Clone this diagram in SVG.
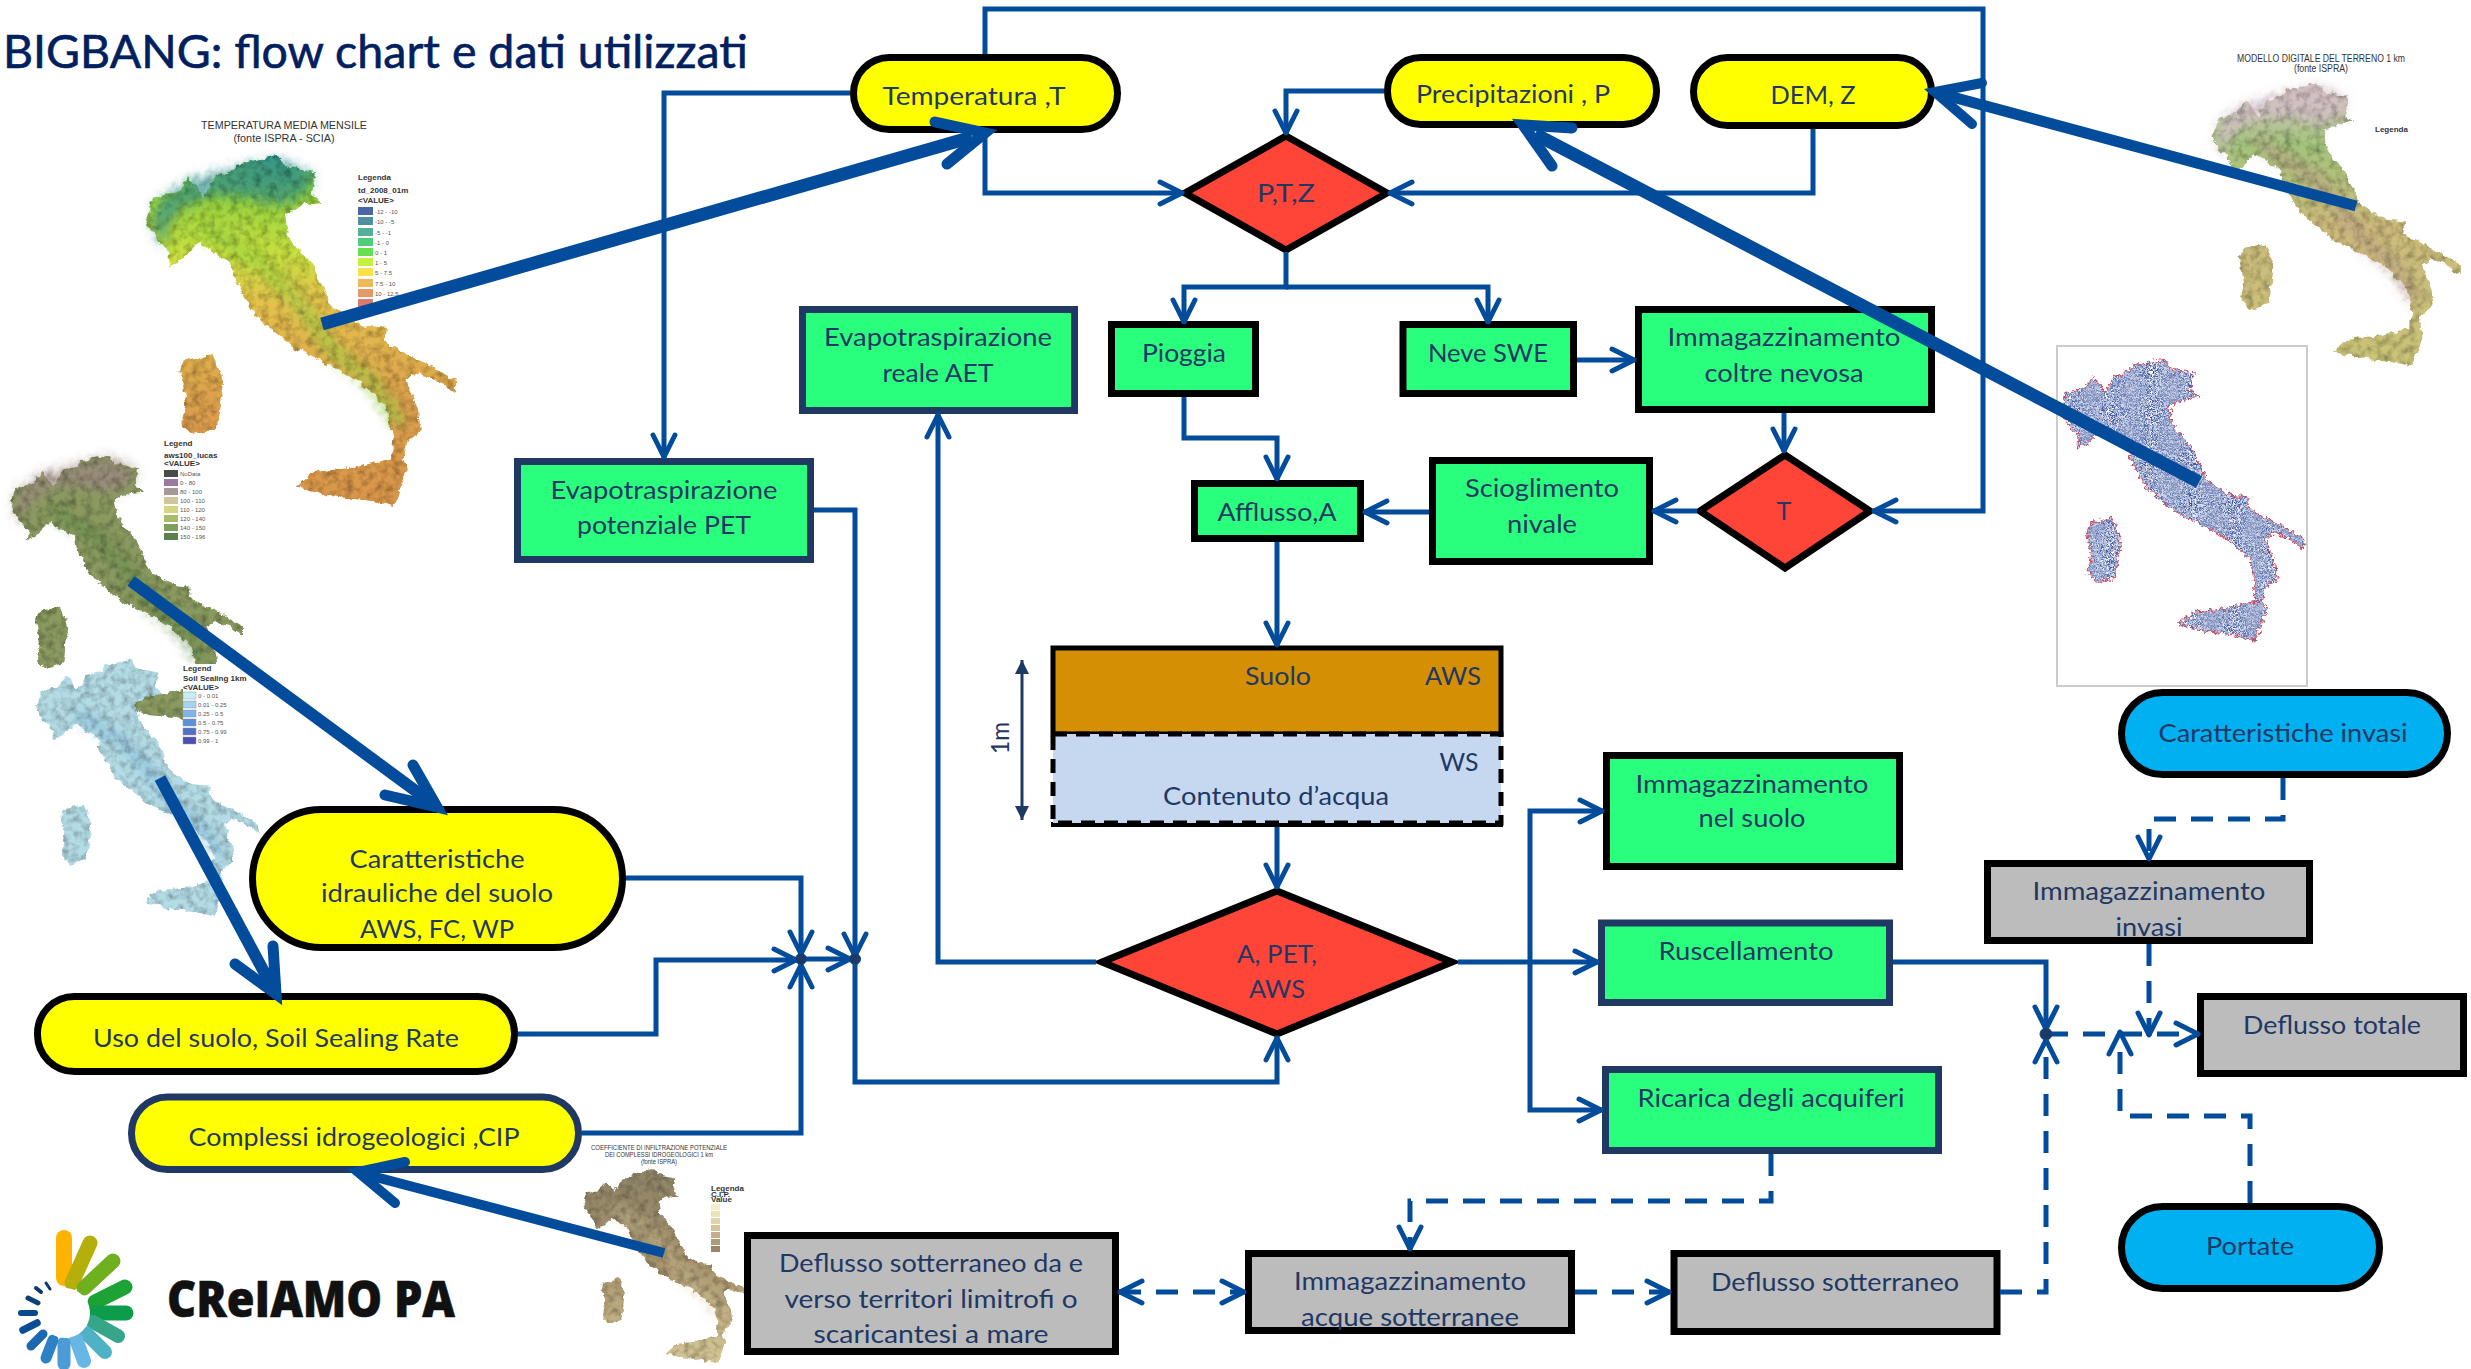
<svg xmlns="http://www.w3.org/2000/svg" width="2471" height="1369" viewBox="0 0 2471 1369">
<style>
.n{stroke:#000;stroke-width:7}
.v{stroke:#1f3864;stroke-width:7}
.g{fill:#2aff7d}.y{fill:#ffff00}.r{fill:#ff4438}.s{fill:#bcbcbc}.b{fill:#00b0f0}
.t{font-family:Lato,"Liberation Sans",sans-serif;font-size:25px;fill:#1f3864;text-anchor:middle}
.c{fill:none;stroke:#034c9b;stroke-width:5}
.d{stroke-dasharray:22 15}
.k{fill:none;stroke:#034c9b;stroke-linejoin:miter}
.h{fill:none;stroke:#034c9b;stroke-linecap:round;stroke-linejoin:miter}
.m{font-family:"Liberation Sans",Arial,sans-serif;fill:#333}
.l{font-family:"Liberation Sans",Arial,sans-serif;font-size:6px;fill:#555}
.lb{font-family:"Liberation Sans",Arial,sans-serif;font-size:8px;font-weight:bold;fill:#333}
</style>
<defs>
<marker id="a" markerUnits="userSpaceOnUse" markerWidth="34" markerHeight="34" viewBox="-29 -17 34 34" refX="0" refY="0" orient="auto-start-reverse"><path d="M-23,-11 L-1,0 L-23,11" fill="none" stroke="#034c9b" stroke-width="5" stroke-linecap="round" stroke-linejoin="round"/></marker>
<marker id="tri" markerUnits="userSpaceOnUse" markerWidth="20" markerHeight="20" viewBox="-16 -10 20 20" refX="0" refY="0" orient="auto-start-reverse"><path d="M-14,-7 L0,0 L-14,7 Z" fill="#1f3864"/></marker>
<linearGradient id="gT" x1="0" y1="0" x2="0" y2="1"><stop offset="0" stop-color="#2f8f8a"/><stop offset=".1" stop-color="#8fcf40"/><stop offset=".28" stop-color="#c8e040"/><stop offset=".42" stop-color="#e5c24e"/><stop offset=".7" stop-color="#dca04e"/><stop offset="1" stop-color="#d8954a"/></linearGradient>
<linearGradient id="gD" x1="0" y1="0" x2="0" y2="1"><stop offset="0" stop-color="#d9c3c8"/><stop offset=".22" stop-color="#a3c47c"/><stop offset=".5" stop-color="#cdbb7c"/><stop offset="1" stop-color="#c9c478"/></linearGradient>
<linearGradient id="gC" x1="0" y1="0" x2="0" y2="1"><stop offset="0" stop-color="#8d8468"/><stop offset=".5" stop-color="#a8946e"/><stop offset="1" stop-color="#d6c897"/></linearGradient>
<pattern id="dots" patternUnits="userSpaceOnUse" width="14" height="14"><g fill="#16348c"><circle cx="2" cy="3" r="2.3"/><circle cx="9" cy="2" r="2.1"/><circle cx="6" cy="8" r="2.4"/><circle cx="12" cy="9" r="2.3"/><circle cx="2" cy="12" r="2.1"/><circle cx="9" cy="13" r="2"/></g></pattern>
<filter id="terr" x="-5%" y="-5%" width="110%" height="110%"><feTurbulence type="fractalNoise" baseFrequency=".13" numOctaves="3" seed="4" result="n"/><feDisplacementMap in="SourceGraphic" in2="n" scale="7" xChannelSelector="R" yChannelSelector="G" result="d"/><feColorMatrix in="n" type="matrix" values="0 0 0 0 0 0 0 0 0 0 0 0 0 0 0 1.1 0 0 0 -.42" result="sh"/><feComposite in="sh" in2="d" operator="in" result="sh2"/><feMerge><feMergeNode in="d"/><feMergeNode in="sh2"/></feMerge></filter>
<filter id="rough" x="-5%" y="-5%" width="110%" height="110%"><feTurbulence type="fractalNoise" baseFrequency=".25" numOctaves="2" seed="9" result="n"/><feDisplacementMap in="SourceGraphic" in2="n" scale="9" xChannelSelector="R" yChannelSelector="G"/></filter>
<filter id="soft" x="-10%" y="-10%" width="120%" height="120%"><feGaussianBlur stdDeviation="6"/></filter>
<path id="italy" d="M32,228L45,175L100,160L125,125L160,170L185,125L235,105L240,95L330,75L345,100L415,115L405,165L430,185L385,190L345,210L352,263L410,331L451,423L520,465L576,470L570,500L587,514L650,545L730,589L730,619L690,590L646,573L620,590L646,658L653,704L620,730L610,772L587,772L590,720L576,651L517,596L469,567L363,514L279,445L232,361L220,320L150,276L110,315L80,330L85,300L50,260ZM115,545L180,530L205,590L190,700L135,715L110,690L120,640L108,570ZM370,835L410,800L500,790L600,765L625,785L590,880L530,865L450,855Z"/>
<path id="alps" d="M45,235L55,185L125,135L240,105L330,85L405,120L395,160L340,190L270,175L180,165L110,195L75,240L75,285L55,260Z"/>
<path id="ridge" d="M170,250L300,330L380,420L460,530L540,590L600,680" fill="none" stroke-width="34" stroke-linecap="round"/>
</defs>
<rect width="2471" height="1369" fill="#fff"/>
<text x="3" y="68" font-family="Lato,'Liberation Sans',sans-serif" font-size="46" fill="#002060" stroke="#002060" stroke-width=".6" textLength="745" lengthAdjust="spacingAndGlyphs">BIGBANG: flow chart e dati utilizzati</text>

<g id="map-temperatura">
<text class="m" font-size="10.5" x="284" y="129" text-anchor="middle" textLength="166" lengthAdjust="spacingAndGlyphs">TEMPERATURA MEDIA MENSILE</text>
<text class="m" font-size="10.5" x="284" y="142" text-anchor="middle" textLength="101" lengthAdjust="spacingAndGlyphs">(fonte ISPRA - SCIA)</text>
<g filter="url(#terr)">
<use href="#italy" fill="url(#gT)" transform="translate(132.8,122.2) scale(.4414,.4374)"/>
<g filter="url(#soft)"><use href="#alps" fill="#2f8f8a" opacity=".7" transform="translate(132.8,122.2) scale(.4414,.4374)"/>
<use href="#ridge" stroke="#8fcf40" opacity=".55" transform="translate(132.8,122.2) scale(.4414,.4374)"/></g>
</g>
<text class="lb" x="358" y="180">Legenda</text><text class="lb" x="358" y="193">td_2008_01m</text><text class="lb" x="358" y="203">&lt;VALUE&gt;</text>
<rect x="358" y="207" width="15" height="8" fill="#4a66a8"/><text class="l" x="375" y="214">-12 - -10</text>
<rect x="358" y="217" width="15" height="8" fill="#4f8fa0"/><text class="l" x="375" y="224">-10 - -5</text>
<rect x="358" y="228" width="15" height="8" fill="#55b09a"/><text class="l" x="375" y="235">-5 - -1</text>
<rect x="358" y="238" width="15" height="8" fill="#52cc7a"/><text class="l" x="375" y="245">-1 - 0</text>
<rect x="358" y="248" width="15" height="8" fill="#66e050"/><text class="l" x="375" y="255">0 - 1</text>
<rect x="358" y="258" width="15" height="8" fill="#c4f040"/><text class="l" x="375" y="265">1 - 5</text>
<rect x="358" y="268" width="15" height="8" fill="#fbe04a"/><text class="l" x="375" y="275">5 - 7.5</text>
<rect x="358" y="279" width="15" height="8" fill="#efb858"/><text class="l" x="375" y="286">7.5 - 10</text>
<rect x="358" y="289" width="15" height="8" fill="#e49a66"/><text class="l" x="375" y="296">10 - 12.5</text>
<rect x="358" y="299" width="15" height="8" fill="#d87a70"/>
</g>

<g id="map-aws">
<g filter="url(#terr)">
<use href="#italy" fill="#8a9a60" transform="translate(0,430) scale(.3329,.3333)"/>
<g filter="url(#soft)"><use href="#alps" fill="#9c8a80" opacity=".8" transform="translate(0,430) scale(.3329,.3333)"/>
<use href="#ridge" stroke="#5f8a4a" opacity=".6" transform="translate(0,430) scale(.3329,.3333)"/></g>
</g>
<text class="lb" x="164" y="446">Legend</text><text class="lb" x="164" y="458">aws100_lucas</text><text class="lb" x="164" y="466" font-size="6">&lt;VALUE&gt;</text>
<rect x="164" y="470" width="14" height="7" fill="#4a4a4a"/><text class="l" x="180" y="476">NoData</text>
<rect x="164" y="479" width="14" height="7" fill="#9a7aa0"/><text class="l" x="180" y="485">0 - 80</text>
<rect x="164" y="488" width="14" height="7" fill="#a89898"/><text class="l" x="180" y="494">80 - 100</text>
<rect x="164" y="497" width="14" height="7" fill="#cfc79a"/><text class="l" x="180" y="503">100 - 110</text>
<rect x="164" y="506" width="14" height="7" fill="#d3d680"/><text class="l" x="180" y="512">110 - 120</text>
<rect x="164" y="515" width="14" height="7" fill="#a8bc6c"/><text class="l" x="180" y="521">120 - 140</text>
<rect x="164" y="524" width="14" height="7" fill="#7f9f5c"/><text class="l" x="180" y="530">140 - 150</text>
<rect x="164" y="533" width="14" height="7" fill="#5c7f50"/><text class="l" x="180" y="539">150 - 196</text>
</g>

<g id="map-sealing">
<rect x="183" y="664" width="70" height="82" fill="#fff"/>
<g filter="url(#terr)">
<use href="#italy" fill="#b4dce6" transform="translate(26.4,636.1) scale(.3186,.3185)"/>
<g filter="url(#soft)"><use href="#ridge" stroke="#7fb8d8" opacity=".6" transform="translate(26.4,636.1) scale(.3186,.3185)"/></g>
</g>
<text class="lb" x="183" y="671">Legend</text><text class="lb" x="183" y="681">Soil Sealing 1km</text><text class="lb" x="183" y="690" font-size="6">&lt;VALUE&gt;</text>
<rect x="183" y="692" width="13" height="7" fill="#c5eef2" stroke="#999" stroke-width=".5"/><text class="l" x="198" y="698">0 - 0.01</text>
<rect x="183" y="701" width="13" height="7" fill="#a5d2f0" stroke="#999" stroke-width=".5"/><text class="l" x="198" y="707">0.01 - 0.25</text>
<rect x="183" y="710" width="13" height="7" fill="#7db4ea" stroke="#999" stroke-width=".5"/><text class="l" x="198" y="716">0.25 - 0.5</text>
<rect x="183" y="719" width="13" height="7" fill="#5a90dc" stroke="#999" stroke-width=".5"/><text class="l" x="198" y="725">0.5 - 0.75</text>
<rect x="183" y="728" width="13" height="7" fill="#5070c8" stroke="#999" stroke-width=".5"/><text class="l" x="198" y="734">0.75 - 0.99</text>
<rect x="183" y="737" width="13" height="7" fill="#4a4fb0" stroke="#999" stroke-width=".5"/><text class="l" x="198" y="743">0.99 - 1</text>
</g>

<g id="map-dem">
<text class="m" font-size="10" x="2321" y="62" text-anchor="middle" textLength="168" lengthAdjust="spacingAndGlyphs">MODELLO DIGITALE DEL TERRENO 1 km</text>
<text class="m" font-size="10" x="2321" y="72" text-anchor="middle" textLength="54" lengthAdjust="spacingAndGlyphs">(fonte ISPRA)</text>
<g filter="url(#terr)">
<use href="#italy" fill="url(#gD)" transform="translate(2201.3,56.5) scale(.3557,.3532)"/>
<g filter="url(#soft)"><use href="#alps" fill="#d4c0c8" opacity=".8" transform="translate(2201.3,56.5) scale(.3557,.3532)"/>
<use href="#ridge" stroke="#b89a88" opacity=".6" transform="translate(2201.3,56.5) scale(.3557,.3532)"/></g>
</g>
<text class="lb" font-size="6" x="2375" y="132">Legenda</text>
</g>

<g id="map-punti">
<rect x="2057" y="346" width="250" height="340" fill="#fff" stroke="#ccc" stroke-width="2"/>
<g filter="url(#rough)"><use href="#italy" fill="url(#dots)" stroke="#d03040" stroke-width="2.5" transform="translate(2049.5,332.8) scale(.3486,.3494)"/></g>
</g>

<g id="map-cip">
<text class="m" font-size="7" x="659" y="1150" text-anchor="middle" textLength="136" lengthAdjust="spacingAndGlyphs">COEFFICIENTE DI INFILTRAZIONE POTENZIALE</text>
<text class="m" font-size="7" x="659" y="1157" text-anchor="middle" textLength="108" lengthAdjust="spacingAndGlyphs">DEI COMPLESSI IDROGEOLOGICI 1 km</text>
<text class="m" font-size="7" x="659" y="1164" text-anchor="middle" textLength="36" lengthAdjust="spacingAndGlyphs">(fonte ISPRA)</text>
<g filter="url(#terr)">
<use href="#italy" fill="url(#gC)" transform="translate(575.8,1150.9) scale(.24,.2416)"/>
<g filter="url(#soft)"><use href="#ridge" stroke="#dccf9f" opacity=".5" transform="translate(575.8,1150.9) scale(.24,.2416)"/></g>
</g>
<text class="lb" font-size="4.5" x="711" y="1191">Legenda</text><text class="lb" font-size="4" x="711" y="1197">C.I.P.</text><text class="lb" font-size="4" x="711" y="1202">Value</text>
<rect x="711" y="1204" width="9" height="6" fill="#f5eec8"/><rect x="711" y="1211" width="9" height="6" fill="#ece2b8"/><rect x="711" y="1218" width="9" height="6" fill="#e0d4a8"/><rect x="711" y="1225" width="9" height="6" fill="#d4c498"/><rect x="711" y="1232" width="9" height="6" fill="#c4b088"/><rect x="711" y="1239" width="9" height="6" fill="#b09a78"/><rect x="711" y="1246" width="9" height="6" fill="#9c8468"/>
</g>

<g id="logo" fill="none" stroke-linecap="round">
<path d="M64,1238V1278" stroke="#fdb400" stroke-width="16"/>
<path d="M90,1243L72,1283" stroke="#b6ae0a" stroke-width="15"/>
<path d="M113,1261L84,1288" stroke="#6fb01e" stroke-width="15"/>
<path d="M125,1287L95,1302" stroke="#1da335" stroke-width="15"/>
<path d="M126,1313H93" stroke="#0d9c4a" stroke-width="15"/>
<path d="M118,1336L93,1322" stroke="#36a58a" stroke-width="14"/>
<path d="M105,1352L86,1333" stroke="#4fb1c5" stroke-width="14"/>
<path d="M84,1361L76,1339" stroke="#66b6e6" stroke-width="14"/>
<path d="M64,1364V1343" stroke="#4c9bd6" stroke-width="13"/>
<path d="M46,1358L53,1340" stroke="#2c82c4" stroke-width="11"/>
<path d="M31,1346L43,1334" stroke="#1d67b0" stroke-width="9"/>
<path d="M23,1330L37,1323" stroke="#0a4f96" stroke-width="7.5"/>
<path d="M21,1313H35" stroke="#064a8c" stroke-width="6"/>
<path d="M28,1298L38,1303" stroke="#0a4076" stroke-width="5"/>
<path d="M36,1288L41,1292" stroke="#0a3a6a" stroke-width="4"/>
<path d="M46,1283L50,1289" stroke="#0a3a6a" stroke-width="3"/>
<circle cx="65" cy="1313" r="25" fill="#fff" stroke="none"/>
<text x="167" y="1317" font-family="'Open Sans',Lato,sans-serif" font-weight="800" font-size="50" fill="#111" stroke="#111" stroke-width=".6" textLength="288" lengthAdjust="spacingAndGlyphs">CReIAMO PA</text>
</g>

<g id="nodes">
<g id="n-temperatura"><rect class="n y" x="853.5" y="57.5" width="264" height="72" rx="36"/><text class="t" x="974" y="105" textLength="183" lengthAdjust="spacingAndGlyphs">Temperatura ,T</text></g>
<g id="n-precipitazioni"><rect class="n y" x="1387.5" y="57.5" width="269" height="67" rx="33"/><text class="t" x="1513" y="103" textLength="194" lengthAdjust="spacingAndGlyphs">Precipitazioni , P</text></g>
<g id="n-dem"><rect class="n y" x="1693.5" y="57.5" width="238" height="68" rx="34"/><text class="t" x="1813" y="104" textLength="85" lengthAdjust="spacingAndGlyphs">DEM, Z</text></g>
<g id="n-ptz"><path class="n r" d="M1286,136L1387,193L1286,250L1185,193Z"/><text class="t" x="1286" y="202" textLength="58" lengthAdjust="spacingAndGlyphs">P,T,Z</text></g>
<g id="n-aet"><rect class="v g" x="802.5" y="309.5" width="272" height="101"/><text class="t" x="938" y="346" textLength="228" lengthAdjust="spacingAndGlyphs">Evapotraspirazione</text><text class="t" x="938" y="382" textLength="111" lengthAdjust="spacingAndGlyphs">reale AET</text></g>
<g id="n-pet"><rect class="v g" x="517.5" y="461.5" width="293" height="98"/><text class="t" x="664" y="499" textLength="227" lengthAdjust="spacingAndGlyphs">Evapotraspirazione</text><text class="t" x="664" y="534" textLength="174" lengthAdjust="spacingAndGlyphs">potenziale PET</text></g>
<g id="n-pioggia"><rect class="n g" x="1111.5" y="324.5" width="144" height="69"/><text class="t" x="1184" y="362" textLength="84" lengthAdjust="spacingAndGlyphs">Pioggia</text></g>
<g id="n-neve"><rect class="n g" x="1403" y="324.5" width="170.5" height="69"/><text class="t" x="1488" y="362" textLength="120" lengthAdjust="spacingAndGlyphs">Neve SWE</text></g>
<g id="n-coltre"><rect class="n g" x="1638.5" y="309.5" width="293" height="100"/></g>
<g id="n-t"><path class="n r" d="M1785,455L1870,511L1785,568L1700,511Z"/><text class="t" x="1784" y="520">T</text></g>
<g id="n-scioglimento"><rect class="n g" x="1432.5" y="460.5" width="217" height="101"/><text class="t" x="1542" y="497" textLength="154" lengthAdjust="spacingAndGlyphs">Scioglimento</text><text class="t" x="1542" y="533" textLength="70" lengthAdjust="spacingAndGlyphs">nivale</text></g>
<g id="n-afflusso"><rect class="n g" x="1194.5" y="483.5" width="166" height="55"/><text class="t" x="1277" y="521" textLength="119" lengthAdjust="spacingAndGlyphs">Afflusso,A</text></g>
<g id="n-suolo">
<rect x="1053" y="648" width="448" height="86" fill="#d48f05" stroke="#000" stroke-width="5"/>
<rect x="1051" y="822" width="452" height="5" fill="#000"/>
<rect x="1053" y="734" width="448" height="89" fill="#c6d8f0" stroke="#000" stroke-width="5" stroke-dasharray="14 9"/>
<text class="t" x="1278" y="685" textLength="66" lengthAdjust="spacingAndGlyphs">Suolo</text><text class="t" x="1453" y="685" textLength="56" lengthAdjust="spacingAndGlyphs">AWS</text>
<text class="t" x="1459" y="771" textLength="39" lengthAdjust="spacingAndGlyphs">WS</text><text class="t" x="1276" y="805" textLength="226" lengthAdjust="spacingAndGlyphs">Contenuto d’acqua</text>
<path d="M1022,660V820" fill="none" stroke="#1f3864" stroke-width="3" marker-start="url(#tri)" marker-end="url(#tri)"/>
<text class="t" transform="translate(1009,738) rotate(-90)" textLength="32" lengthAdjust="spacingAndGlyphs">1m</text>
</g>
<g id="n-apetaws"><path class="n r" d="M1277,891L1452,962L1277,1034L1102,962Z"/><text class="t" x="1277" y="963" textLength="80" lengthAdjust="spacingAndGlyphs">A, PET,</text><text class="t" x="1277" y="998" textLength="56" lengthAdjust="spacingAndGlyphs">AWS</text></g>
<g id="n-nelsuolo"><rect class="n g" x="1606.5" y="755.5" width="293" height="111"/><text class="t" x="1752" y="793" textLength="233" lengthAdjust="spacingAndGlyphs">Immagazzinamento</text><text class="t" x="1752" y="827" textLength="107" lengthAdjust="spacingAndGlyphs">nel suolo</text></g>
<g id="n-ruscellamento"><rect class="v g" x="1601.5" y="923" width="288" height="79.5"/><text class="t" x="1746" y="960" textLength="175" lengthAdjust="spacingAndGlyphs">Ruscellamento</text></g>
<g id="n-ricarica"><rect class="v g" x="1605.5" y="1069.5" width="333" height="81"/><text class="t" x="1771" y="1107" textLength="267" lengthAdjust="spacingAndGlyphs">Ricarica degli acquiferi</text></g>
<g id="n-caratteristiche"><rect class="n y" x="252.5" y="809.5" width="370" height="138" rx="69"/><text class="t" x="437" y="868" textLength="175" lengthAdjust="spacingAndGlyphs">Caratteristiche</text><text class="t" x="437" y="902" textLength="232" lengthAdjust="spacingAndGlyphs">idrauliche del suolo</text><text class="t" x="437" y="938" textLength="154" lengthAdjust="spacingAndGlyphs">AWS, FC, WP</text></g>
<g id="n-uso"><rect class="n y" x="37.5" y="996.5" width="477" height="75" rx="37"/><text class="t" x="276" y="1047" textLength="366" lengthAdjust="spacingAndGlyphs">Uso del suolo, Soil Sealing Rate</text></g>
<g id="n-complessi"><rect class="v y" x="131.5" y="1097" width="447" height="72.5" rx="36"/><text class="t" x="354" y="1146" textLength="331" lengthAdjust="spacingAndGlyphs">Complessi idrogeologici ,CIP</text></g>
<g id="n-limitrofi"><rect class="n s" x="747.5" y="1235.5" width="368" height="116"/><text class="t" x="931" y="1272" textLength="304" lengthAdjust="spacingAndGlyphs">Deflusso sotterraneo da e</text><text class="t" x="931" y="1308" textLength="293" lengthAdjust="spacingAndGlyphs">verso territori limitrofi  o</text><text class="t" x="931" y="1343" textLength="235" lengthAdjust="spacingAndGlyphs">scaricantesi  a mare</text></g>
<g id="n-acque"><rect class="n s" x="1248.5" y="1253.5" width="323" height="77"/><text class="t" x="1410" y="1290" textLength="232" lengthAdjust="spacingAndGlyphs">Immagazzinamento</text><text class="t" x="1410" y="1326" textLength="218" lengthAdjust="spacingAndGlyphs">acque sotterranee</text></g>
<g id="n-sotterraneo"><rect class="n s" x="1674" y="1253.5" width="323" height="78"/><text class="t" x="1835" y="1291" textLength="248" lengthAdjust="spacingAndGlyphs">Deflusso sotterraneo</text></g>
<g id="n-invasi"><rect class="n s" x="1987.5" y="863.5" width="322" height="77"/><text class="t" x="2149" y="900" textLength="233" lengthAdjust="spacingAndGlyphs">Immagazzinamento</text><text class="t" x="2149" y="936" textLength="67" lengthAdjust="spacingAndGlyphs">invasi</text></g>
<g id="n-totale"><rect class="n s" x="2200.5" y="996.5" width="263" height="77"/><text class="t" x="2332" y="1034" textLength="178" lengthAdjust="spacingAndGlyphs">Deflusso totale</text></g>
<g id="n-carinvasi"><rect class="n b" x="2121.5" y="692.5" width="326" height="82" rx="41"/><text class="t" x="2283" y="742" textLength="249" lengthAdjust="spacingAndGlyphs">Caratteristiche invasi</text></g>
<g id="n-portate"><rect class="n b" x="2121.5" y="1206.5" width="258" height="82" rx="41"/><text class="t" x="2250" y="1255" textLength="88" lengthAdjust="spacingAndGlyphs">Portate</text></g>
</g>

<g id="connectors">
<path class="c" d="M850,93H664V458" marker-end="url(#a)"/>
<path class="c" d="M985,54V9H1983V511H1873" marker-end="url(#a)"/>
<path class="c" d="M985,133V193H1183" marker-end="url(#a)"/>
<path class="c" d="M1384,91H1286V134" marker-end="url(#a)"/>
<path class="c" d="M1813,129V193H1389" marker-end="url(#a)"/>
<path class="c" d="M1286,252V287H1184V323" marker-end="url(#a)"/>
<path class="c" d="M1286,287H1488V323" marker-end="url(#a)"/>
<path class="c" d="M1577,360H1635" marker-end="url(#a)"/>
<path class="c" d="M1784,413V452" marker-end="url(#a)"/>
<path class="c" d="M1697,511H1653" marker-end="url(#a)"/>
<path class="c" d="M1429,512H1364" marker-end="url(#a)"/>
<path class="c" d="M1184,397V438H1277V480" marker-end="url(#a)"/>
<path class="c" d="M1277,542V646" marker-end="url(#a)"/>
<path class="c" d="M1277,827V888" marker-end="url(#a)"/>
<path class="c" d="M1096,962H938V414" marker-end="url(#a)"/>
<path class="c" d="M814,510H855V957" marker-end="url(#a)"/>
<path class="c" d="M855,959V1082H1277V1037" marker-end="url(#a)"/>
<path class="c" d="M626,878H801V955" marker-end="url(#a)"/>
<path class="c" d="M518,1034H656V960H797" marker-end="url(#a)"/>
<path class="c" d="M582,1133H801V964" marker-end="url(#a)"/>
<path class="c" d="M801,959H851" marker-end="url(#a)"/>
<path class="c" d="M1458,962H1598" marker-end="url(#a)"/>
<path class="c" d="M1530,962V811H1603" marker-end="url(#a)"/>
<path class="c" d="M1530,962V1110H1602" marker-end="url(#a)"/>
<path class="c" d="M1893,962H2046V1030" marker-end="url(#a)"/>
<path class="c d" d="M2046,1034H2199" marker-end="url(#a)"/>
<path class="c d" d="M2283,778V819H2149V860" marker-end="url(#a)"/>
<path class="c d" d="M2149,944V1036" marker-end="url(#a)"/>
<path class="c d" d="M2250,1203V1116H2120V1031" marker-end="url(#a)"/>
<path class="c d" d="M2000,1292H2046V1039" marker-end="url(#a)"/>
<path class="c d" d="M1575,1292H1670" marker-end="url(#a)"/>
<path class="c d" d="M1771,1154V1201H1410V1250" marker-end="url(#a)"/>
<path class="c d" d="M1119,1292H1245" marker-start="url(#a)" marker-end="url(#a)"/>
<circle cx="801" cy="959" r="5.5" fill="#1f3864" stroke="#034c9b" stroke-width="1"/>
<circle cx="855" cy="959" r="5.5" fill="#1f3864" stroke="#034c9b" stroke-width="1"/>
<circle cx="2046" cy="1034" r="6" fill="#1f3864" stroke="#034c9b" stroke-width="1"/>
</g>

<g id="source-arrows">
<path class="k" stroke-width="13" d="M322,324L972,137"/><path class="h" stroke-width="11" d="M935,122L985,133L947,164"/>
<path class="k" stroke-width="11" d="M2356,206L1945,95"/><path class="h" stroke-width="10" d="M1982,83L1935,92L1972,124"/>
<path class="k" stroke-width="13" d="M2199,482L1535,134"/><path class="h" stroke-width="11" d="M1572,128L1523,125L1552,166"/>
<path class="k" stroke-width="12" d="M131,581L428,800"/><path class="h" stroke-width="11" d="M385,795L437,807L413,765"/>
<path class="k" stroke-width="12" d="M160,778L270,983"/><path class="h" stroke-width="11" d="M235,964L276,994L273,946"/>
<path class="k" stroke-width="10" d="M664,1253L368,1175"/><path class="h" stroke-width="10" d="M405,1162L358,1172L395,1203"/>
</g>
<text class="t" x="1784" y="346" textLength="233" lengthAdjust="spacingAndGlyphs">Immagazzinamento</text>
<text class="t" x="1784" y="382" textLength="159" lengthAdjust="spacingAndGlyphs">coltre nevosa</text>
</svg>
